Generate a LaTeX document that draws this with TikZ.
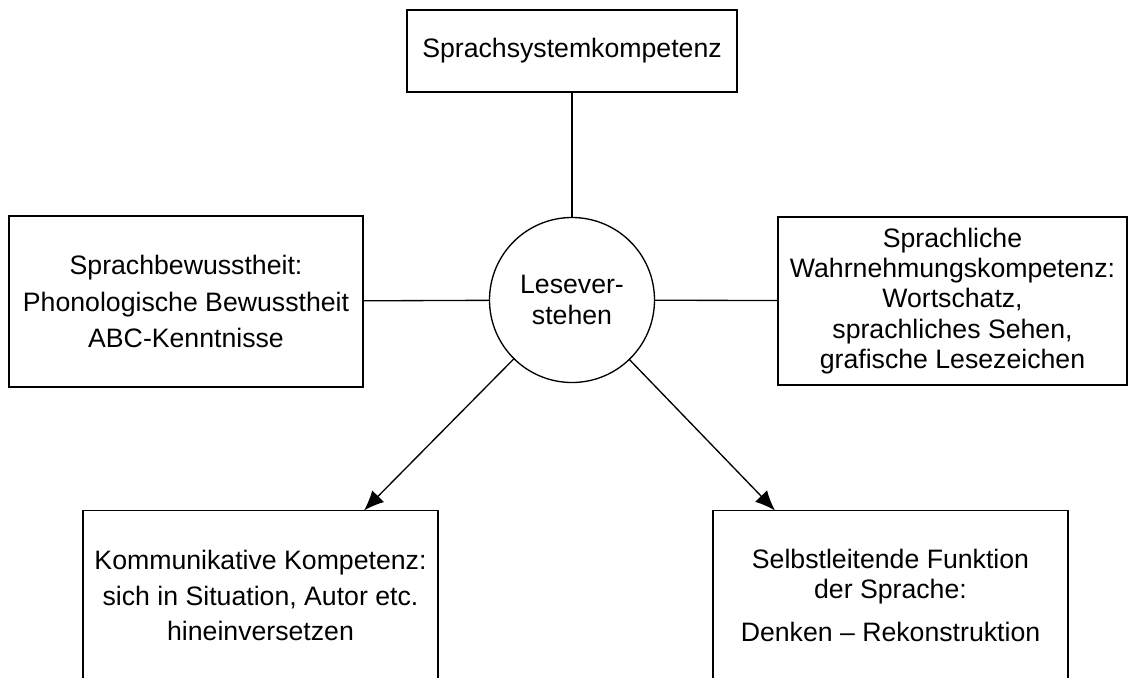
\documentclass[tikz,border=0pt]{standalone}
\usepackage{fontspec}
\setmainfont{Liberation Sans}
\usepackage{tikz}
\usepackage{tkz-graph}
\usetikzlibrary{arrows.meta}

\begin{document}
\begin{tikzpicture}[x=0.45pt,y=-0.45pt]
    \useasboundingbox (0,0) rectangle (1128,677);
    \clip (0,0) rectangle (1128,677);
    \GraphInit[vstyle=Normal]
    \tikzset{VertexStyle/.style = {%
        draw= black,
        line width= 0.6pt,
        fill= white,
        inner sep= 0pt,
        align= center,
        text= black,
        font= \fontsize{12}{13.7}\selectfont},
      EdgeStyle/.style = {draw= black, line width= 0.6pt},
      pfeil/.style = {-{Latex[length=9pt,width=7.5pt]}}}
    \Vertex[x=572,y=51,L={Sprachsystemkompetenz},
        style={minimum width=148.5pt,minimum height=36.9pt}]{sys}
    \Vertex[x=572,y=300,L={Lesever-\\stehen},
        style={shape=circle,minimum size=74.25pt}]{Lese}
    \Vertex[x=186,y=301.5,
        L={Sprachbewusstheit:\\[2.7pt]Phonologische Bewusstheit\\[2.7pt]ABC-Kenntnisse},
        style={minimum width=159.3pt,minimum height=77pt}]{bewusst}
    \Vertex[x=952.5,y=301,
        L={Sprachliche\\Wahrnehmungskompetenz:\\Wortschatz,\\sprachliches Sehen,\\grafische Lesezeichen},
        style={minimum width=157pt,minimum height=75.6pt}]{wahrn}
    \Vertex[x=260.5,y=595.5,
        L={Kommunikative Kompetenz:\\[2.8pt]sich in Situation, Autor etc.\\[2pt]hineinversetzen},
        style={minimum width=159.75pt,minimum height=76.5pt}]{komm}
    \Vertex[x=890.5,y=595.5,
        L={Selbstleitende Funktion\\der Sprache:\\[5.6pt]Denken -- Rekonstruktion},
        style={minimum width=159.75pt,minimum height=76.5pt}]{selbst}
    \coordinate (kommSpitze) at (364,510.5);
    \coordinate (selbstSpitze) at (775,510.5);
    \Edge(sys)(Lese)
    \Edge(bewusst)(Lese)
    \Edge(Lese)(wahrn)
    \Edge[style=pfeil](Lese)(kommSpitze)
    \Edge[style=pfeil](Lese)(selbstSpitze)
 \end{tikzpicture}
\end{document}
